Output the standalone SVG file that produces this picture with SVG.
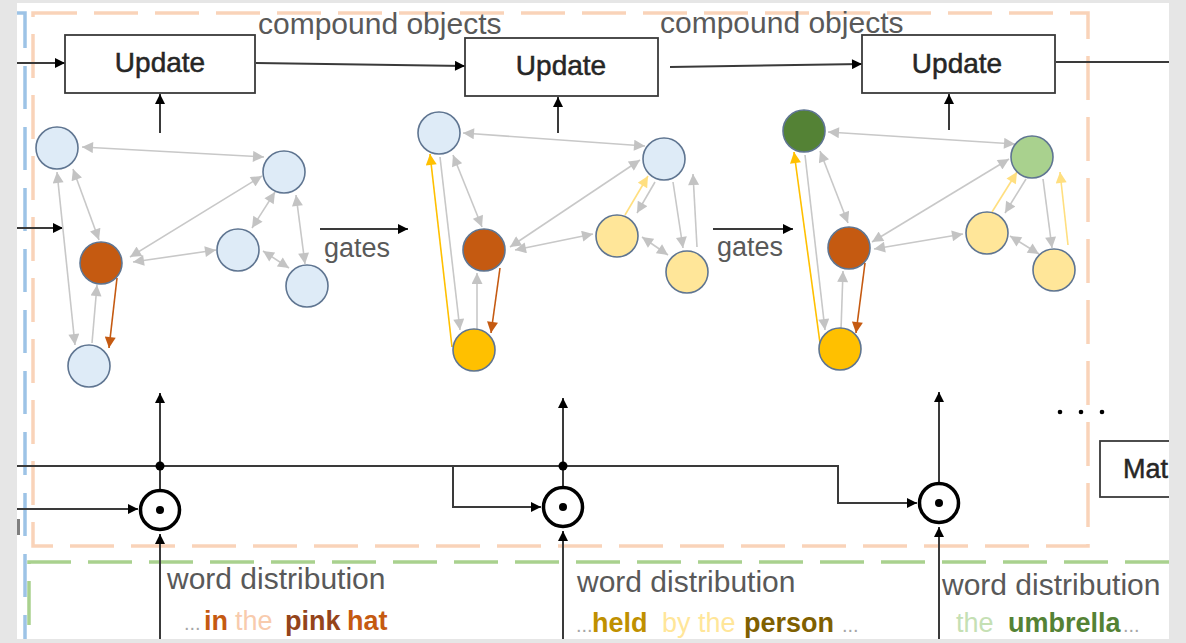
<svg xmlns="http://www.w3.org/2000/svg" width="1186" height="643" viewBox="0 0 1186 643">
<defs>
<marker id="mk" viewBox="0 0 10 10" refX="10" refY="5" markerWidth="12" markerHeight="10" markerUnits="userSpaceOnUse" orient="auto-start-reverse"><path d="M0,0 L10,5 L0,10 z" fill="#000"/></marker>
<marker id="mg" viewBox="0 0 10 10" refX="10" refY="5" markerWidth="12" markerHeight="11" markerUnits="userSpaceOnUse" orient="auto-start-reverse"><path d="M0,0 L10,5 L0,10 z" fill="#c3c3c3"/></marker>
<marker id="mo" viewBox="0 0 10 10" refX="10" refY="5" markerWidth="12" markerHeight="11" markerUnits="userSpaceOnUse" orient="auto-start-reverse"><path d="M0,0 L10,5 L0,10 z" fill="#c55a11"/></marker>
<marker id="my" viewBox="0 0 10 10" refX="10" refY="5" markerWidth="12" markerHeight="11" markerUnits="userSpaceOnUse" orient="auto-start-reverse"><path d="M0,0 L10,5 L0,10 z" fill="#ffc000"/></marker>
<marker id="ml" viewBox="0 0 10 10" refX="10" refY="5" markerWidth="12" markerHeight="11" markerUnits="userSpaceOnUse" orient="auto-start-reverse"><path d="M0,0 L10,5 L0,10 z" fill="#ffdf80"/></marker>
</defs>
<style>
text{font-family:"Liberation Sans",Arial,sans-serif}
.box{fill:#fff;stroke:#3a3a3a;stroke-width:1.8}
.upd{font-size:28px;fill:#262626;stroke:#262626;stroke-width:0.5;text-anchor:middle}
.lbl{fill:#595959}
.k{stroke:#3a3a3a;stroke-width:2;fill:none;marker-end:url(#mk)}
.kl{stroke:#3a3a3a;stroke-width:2;fill:none}
.g{stroke:#c8c8c8;stroke-width:1.6;fill:none;marker-end:url(#mg)}
.gd{stroke:#c8c8c8;stroke-width:1.6;fill:none;marker-end:url(#mg);marker-start:url(#mg)}
.o{stroke:#c55a11;stroke-width:1.6;fill:none;marker-end:url(#mo)}
.y{stroke:#ffc000;stroke-width:1.6;fill:none;marker-end:url(#my)}
.l{stroke:#ffdf80;stroke-width:1.6;fill:none;marker-end:url(#ml)}
.n circle{stroke:#5f7591;stroke-width:1.6}
.blue{fill:#deebf7}.red{fill:#c55a11}.ly{fill:#ffe699}.gold{fill:#ffc000}.dg{fill:#548235}.lg{fill:#a9d18e}
.dot{stroke:#000;stroke-width:3.5;fill:#fff}
.wd{font-size:30px;fill:#595959}
.w{font-size:27px}
.b{font-weight:bold}
.el{fill:#a6a6a6;font-size:20px}
</style>
<rect x="0" y="0" width="1186" height="643" fill="#fff"/>

<!-- dashed frames -->
<g id="frames" fill="none" stroke-width="3.5">
<path d="M17,13 H25 V643" stroke="#9dc3e6" stroke-dasharray="43 18"/>
<rect x="33" y="13" width="1055" height="533" stroke="#f8cbad" stroke-opacity="0.85" stroke-dasharray="44 17"/>
<path d="M1169,562 H29 V643" stroke="#a9d18e" stroke-dasharray="44 17"/>
</g>

<!-- texts -->
<g id="labels">
<text class="lbl" x="258" y="34" font-size="30">compound objects</text>
<text class="lbl" x="660" y="33" font-size="30">compound objects</text>
<text class="lbl" x="324" y="257" font-size="27">gates</text>
<text class="lbl" x="717" y="256" font-size="27">gates</text>
<text class="wd" x="167" y="589">word distribution</text>
<text class="wd" x="577" y="592">word distribution</text>
<text class="wd" x="942" y="595">word distribution</text>
<text y="630"><tspan class="el" x="184">...</tspan><tspan class="w b" x="204" fill="#c55a11">in</tspan><tspan class="w" x="235" fill="#f8cbad">the</tspan><tspan class="w b" x="285" fill="#94441a">pink</tspan><tspan class="w b" x="347" fill="#c55a11">hat</tspan></text>
<text y="632"><tspan class="el" x="576">...</tspan><tspan class="w b" x="592" fill="#bf9000">held</tspan><tspan class="w" x="662" fill="#ffe699">by</tspan><tspan class="w" x="698" fill="#ffe699">the</tspan><tspan class="w b" x="744" fill="#7f6000">person</tspan><tspan class="el" x="842">...</tspan></text>
<text y="632"><tspan class="w" x="956" fill="#c5e0b4">the</tspan><tspan class="w b" x="1008" fill="#548235">umbrella</tspan><tspan class="el" x="1123">...</tspan></text>
</g>

<!-- connectors -->
<g id="connectors">
<line class="k" x1="17" y1="63" x2="65" y2="63"/>
<line class="k" x1="256" y1="63" x2="465" y2="66"/>
<line class="k" x1="670" y1="67" x2="862" y2="64"/>
<line class="kl" x1="1056" y1="62" x2="1169" y2="62"/>
<line class="k" x1="160" y1="133" x2="160" y2="94"/>
<line class="k" x1="558" y1="133" x2="558" y2="97"/>
<line class="k" x1="949" y1="130" x2="949" y2="94"/>
<line class="k" x1="17" y1="228" x2="63" y2="228"/>
<line class="k" x1="320" y1="229" x2="408" y2="229"/>
<line class="k" x1="713" y1="229" x2="793" y2="229"/>
<path class="k" d="M17,466 H838 V503 H917"/>
<path class="k" d="M461,466 H453 V507 H541"/>
<line class="k" x1="17" y1="509" x2="138" y2="509"/>
<line class="k" x1="160" y1="490" x2="160" y2="393"/>
<line class="k" x1="563" y1="487" x2="563" y2="398"/>
<line class="k" x1="939" y1="483" x2="939" y2="392"/>
<line class="k" x1="160" y1="643" x2="160" y2="534"/>
<line class="k" x1="563" y1="643" x2="563" y2="531"/>
<line class="k" x1="939" y1="643" x2="939" y2="527"/>
<circle cx="160" cy="466" r="4.5" fill="#000"/>
<circle cx="563" cy="466" r="4.5" fill="#000"/>
<!-- graph 1 -->
<line class="gd" x1="82" y1="147" x2="264" y2="157"/>
<line class="gd" x1="73" y1="169" x2="99" y2="240"/>
<line class="gd" x1="57" y1="172" x2="75" y2="345"/>
<line class="g" x1="92" y1="343" x2="97" y2="285"/>
<line class="o" x1="117" y1="278" x2="109" y2="348"/>
<line class="gd" x1="130" y1="257" x2="262" y2="176"/>
<line class="gd" x1="133" y1="262" x2="216" y2="250"/>
<line class="gd" x1="275" y1="192" x2="252" y2="228"/>
<line class="gd" x1="296" y1="195" x2="305" y2="264"/>
<line class="gd" x1="263" y1="251" x2="289" y2="268"/>
<!-- graph 2 -->
<line class="gd" x1="463" y1="133" x2="645" y2="146"/>
<line class="gd" x1="453" y1="155" x2="482" y2="227"/>
<line class="g" x1="440" y1="157" x2="460" y2="330"/>
<line class="y" x1="452" y1="347" x2="430" y2="154"/>
<line class="g" x1="477" y1="332" x2="477" y2="273"/>
<line class="o" x1="500" y1="268" x2="491" y2="333"/>
<line class="gd" x1="510" y1="247" x2="640" y2="160"/>
<line class="gd" x1="515" y1="250" x2="593" y2="234"/>
<line class="l" x1="625" y1="215" x2="648" y2="176"/>
<line class="g" x1="655" y1="182" x2="637" y2="213"/>
<line class="g" x1="673" y1="182" x2="683" y2="248"/>
<line class="g" x1="697" y1="247" x2="693" y2="174"/>
<line class="gd" x1="642" y1="237" x2="668" y2="255"/>
<!-- graph 3 -->
<line class="gd" x1="828" y1="132" x2="1015" y2="144"/>
<line class="gd" x1="820" y1="151" x2="848" y2="223"/>
<line class="g" x1="805" y1="155" x2="825" y2="330"/>
<line class="y" x1="820" y1="343" x2="794" y2="152"/>
<line class="g" x1="841" y1="330" x2="843" y2="271"/>
<line class="o" x1="865" y1="263" x2="856" y2="333"/>
<line class="gd" x1="872" y1="242" x2="1009" y2="159"/>
<line class="gd" x1="874" y1="249" x2="963" y2="234"/>
<line class="l" x1="992" y1="212" x2="1017" y2="172"/>
<line class="g" x1="1026" y1="179" x2="1005" y2="213"/>
<line class="g" x1="1043" y1="179" x2="1052" y2="248"/>
<line class="l" x1="1068" y1="245" x2="1060" y2="172"/>
<line class="gd" x1="1010" y1="236" x2="1039" y2="254"/>
</g>

<!-- update boxes -->
<g id="update1"><rect class="box" x="65" y="35" width="190" height="58"/><text class="upd" x="160" y="72">Update</text></g>
<g id="update2"><rect class="box" x="465" y="38" width="193" height="58"/><text class="upd" x="561" y="75">Update</text></g>
<g id="update3"><rect class="box" x="862" y="35" width="193" height="58"/><text class="upd" x="957" y="73">Update</text></g>
<g id="match"><rect class="box" x="1100" y="441" width="100" height="56"/><text x="1123" y="478" font-size="27" fill="#262626" stroke="#262626" stroke-width="0.5">Mat</text></g>

<!-- graph nodes -->
<g class="n" id="g1">
<g id="g1a"><circle class="blue" cx="57" cy="148" r="21"/></g>
<g id="g1b"><circle class="blue" cx="284" cy="172" r="21"/></g>
<g id="g1c"><circle class="red" cx="101" cy="263" r="21"/></g>
<g id="g1d"><circle class="blue" cx="238" cy="250" r="21"/></g>
<g id="g1e"><circle class="blue" cx="307" cy="286" r="21"/></g>
<g id="g1f"><circle class="blue" cx="89" cy="366" r="21"/></g>
</g>
<g class="n" id="g2">
<g id="g2a"><circle class="blue" cx="439" cy="133" r="21"/></g>
<g id="g2b"><circle class="blue" cx="664" cy="159" r="21"/></g>
<g id="g2c"><circle class="red" cx="484" cy="250" r="21"/></g>
<g id="g2d"><circle class="ly" cx="617" cy="236" r="21"/></g>
<g id="g2e"><circle class="ly" cx="687" cy="272" r="21"/></g>
<g id="g2f"><circle class="gold" cx="474" cy="350" r="21"/></g>
</g>
<g class="n" id="g3">
<g id="g3a"><circle class="dg" cx="804" cy="131" r="21"/></g>
<g id="g3b"><circle class="lg" cx="1032" cy="157" r="21"/></g>
<g id="g3c"><circle class="red" cx="849" cy="248" r="21"/></g>
<g id="g3d"><circle class="ly" cx="987" cy="233" r="21"/></g>
<g id="g3e"><circle class="ly" cx="1054" cy="270" r="21"/></g>
<g id="g3f"><circle class="gold" cx="840" cy="349" r="21"/></g>
</g>

<!-- gate (odot) nodes -->
<g id="odot1"><circle class="dot" cx="160" cy="510" r="19.5"/><circle cx="160" cy="510" r="4" fill="#000"/></g>
<g id="odot2"><circle class="dot" cx="563" cy="507" r="19.5"/><circle cx="563" cy="507" r="4" fill="#000"/></g>
<g id="odot3"><circle class="dot" cx="939" cy="503" r="19.5"/><circle cx="939" cy="503" r="4" fill="#000"/></g>

<g id="ellipsis" fill="#000">
<circle cx="1060" cy="412" r="2.3"/><circle cx="1081" cy="412" r="2.3"/><circle cx="1102" cy="412" r="2.3"/>
</g>

<!-- window frame -->
<g id="frame" fill="#e6e6e6">
<rect x="0" y="0" width="17" height="643"/>
<rect x="1169" y="0" width="17" height="643"/>
<rect x="0" y="0" width="1186" height="3"/>
<rect x="0" y="639" width="1186" height="4"/>
</g>
<rect x="17" y="519" width="3" height="16" fill="#7f7f7f"/>
</svg>
